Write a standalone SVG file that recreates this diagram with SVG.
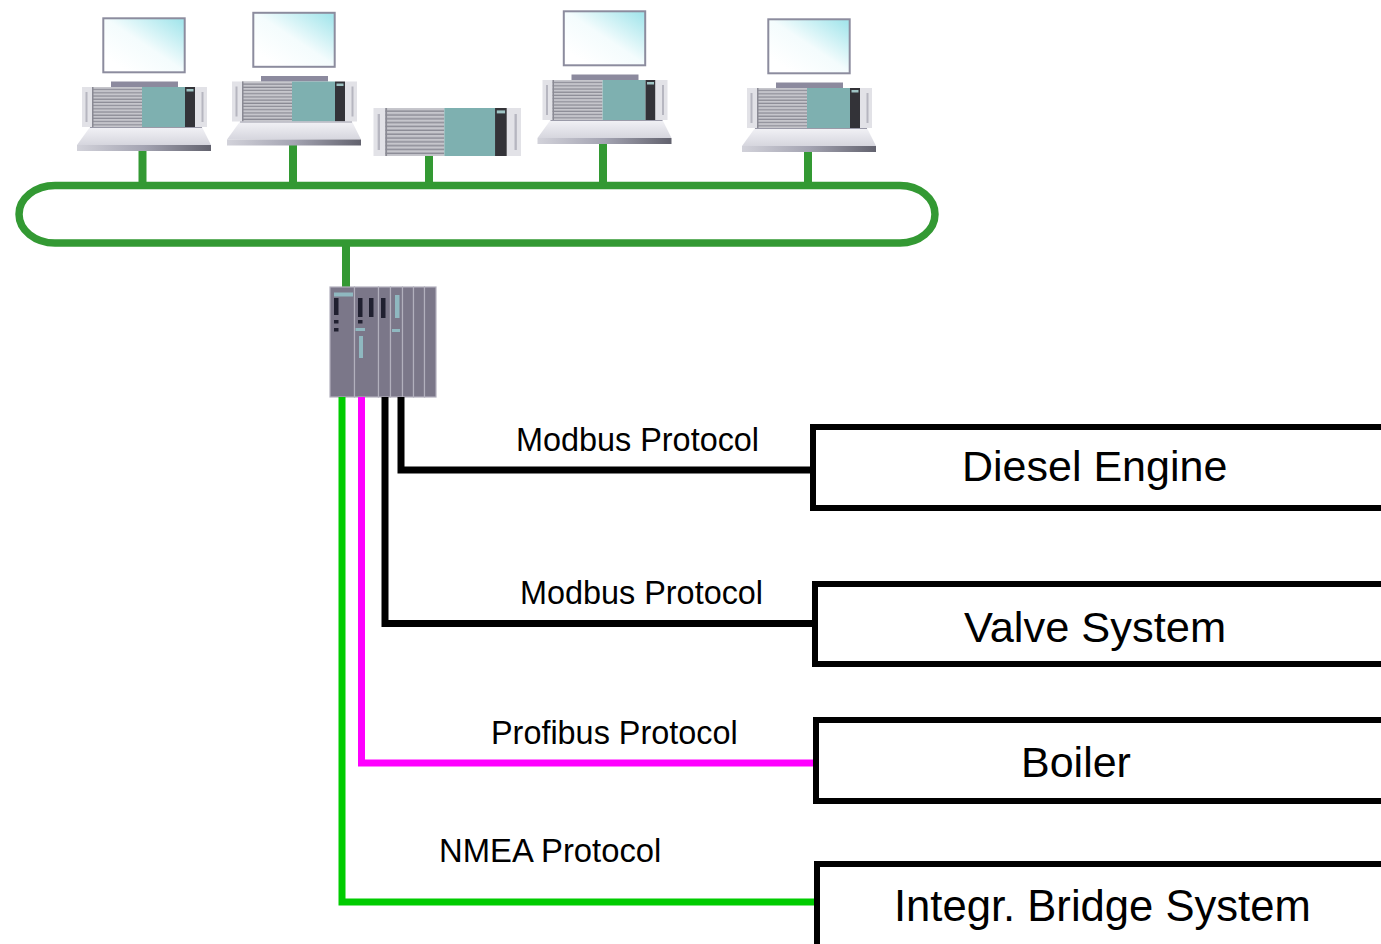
<svg xmlns="http://www.w3.org/2000/svg" xmlns:xlink="http://www.w3.org/1999/xlink" width="1381" height="944" viewBox="0 0 1381 944">
  <style>
    .bus { fill: none; stroke: #339933; stroke-width: 7.5; }
    .stub { stroke: #339933; stroke-width: 8; fill: none; }
    .link { fill: none; stroke-width: 7; stroke-linejoin: miter; }
    .box { fill: #ffffff; stroke: #000000; stroke-width: 6; }
    .proto { font-family: "Liberation Sans", Arial, sans-serif; font-size: 32.4px; fill: #000000; }
    .name { font-family: "Liberation Sans", Arial, sans-serif; font-size: 43px; fill: #000000; }
    .mod { fill: #7b7789; stroke: #b2b0bd; stroke-width: 1.2; }
  </style>
  <defs>
    <linearGradient id="screen" x1="0.2" y1="0.9" x2="1" y2="0.1">
      <stop offset="0" stop-color="#ffffff"/>
      <stop offset="0.45" stop-color="#f4fcfd"/>
      <stop offset="1" stop-color="#a6e6ec"/>
    </linearGradient>
    <linearGradient id="trayTop" x1="0" y1="0" x2="0" y2="1">
      <stop offset="0" stop-color="#f2f2f6"/>
      <stop offset="1" stop-color="#d6d6de"/>
    </linearGradient>
    <linearGradient id="trayEdge" x1="0" y1="0" x2="1" y2="0">
      <stop offset="0" stop-color="#d2d2da"/>
      <stop offset="0.5" stop-color="#a4a4b2"/>
      <stop offset="1" stop-color="#62626e"/>
    </linearGradient>
    <pattern id="grille" width="6" height="3.2" patternUnits="userSpaceOnUse">
      <rect width="6" height="3.2" fill="#c6c6cc"/>
      <rect y="2" width="6" height="1.2" fill="#8a8a94"/>
    </pattern>

    <!-- 19" industrial PC chassis, origin at top-left corner -->
    <g id="rack">
      <rect x="0" y="0" width="10" height="40" fill="#e2e2e7"/>
      <rect x="3.5" y="5" width="2" height="30" fill="#b6b6c0"/>
      <rect x="10" y="0" width="50" height="40" fill="url(#grille)"/>
      <rect x="10" y="0" width="1.5" height="40" fill="#8a8a94"/>
      <rect x="60" y="0" width="43" height="40" fill="#7eb0b0"/>
      <rect x="103" y="0" width="10" height="40" fill="#333338"/>
      <rect x="104.5" y="2" width="7" height="2.5" fill="#9fc4c4"/>
      <rect x="113" y="0" width="12" height="40" fill="#e2e2e7"/>
      <rect x="119.5" y="5" width="2" height="30" fill="#b6b6c0"/>
    </g>

    <!-- operator station: monitor, stand, chassis and keyboard tray -->
    <g id="station">
      <rect x="21.3" y="-68.7" width="81.4" height="54" fill="url(#screen)" stroke="#8c8c9e" stroke-width="2"/>
      <rect x="29" y="-5.5" width="67" height="5.5" fill="#8c8a9e"/>
      <use xlink:href="#rack"/>
      <polygon points="8,40 120,40 129,58 -5,58" fill="url(#trayTop)"/>
      <line x1="8" y1="40.5" x2="120" y2="40.5" stroke="#9a9aa8" stroke-width="1"/>
      <rect x="-5" y="58" width="134" height="6" fill="url(#trayEdge)"/>
    </g>
  </defs>

  <rect width="1381" height="944" fill="#ffffff"/>

  <!-- plant network ring and drops -->
  <g id="network">
    <path class="bus" d="M55,185.5 H900 A35,28.75 0 0 1 900,243 H55 A36,28.75 0 0 1 55,185.5 Z"/>
    <line class="stub" x1="142.5" y1="149" x2="142.5" y2="186"/>
    <line class="stub" x1="293" y1="144" x2="293" y2="186"/>
    <line class="stub" x1="429" y1="155" x2="429" y2="186"/>
    <line class="stub" x1="603" y1="143" x2="603" y2="186"/>
    <line class="stub" x1="808" y1="151" x2="808" y2="186"/>
    <line class="stub" x1="346" y1="243" x2="346" y2="287"/>
  </g>

  <g id="pc1"><use xlink:href="#station" transform="translate(82,87)"/></g>
  <g id="pc2"><use xlink:href="#station" transform="translate(232,81.5)"/></g>
  <g id="server"><use xlink:href="#rack" transform="translate(373.5,108) scale(1.18,1.2)"/></g>
  <g id="pc3"><use xlink:href="#station" transform="translate(542.5,80)"/></g>
  <g id="pc4"><use xlink:href="#station" transform="translate(747,88)"/></g>

  <!-- controller rack -->
  <g id="plc">
    <rect class="mod" x="330" y="287" width="24.5" height="110"/>
    <rect class="mod" x="354.5" y="287" width="24" height="110"/>
    <rect class="mod" x="378.5" y="287" width="12" height="110"/>
    <rect class="mod" x="390.5" y="287" width="12" height="110"/>
    <rect class="mod" x="402.5" y="287" width="11" height="110"/>
    <rect class="mod" x="413.5" y="287" width="11" height="110"/>
    <rect class="mod" x="424.5" y="287" width="11.5" height="110"/>
    <rect x="334" y="292.5" width="19" height="4" fill="#8fb8c0"/>
    <rect x="334" y="298" width="4.5" height="17" fill="#202030"/>
    <rect x="334" y="320" width="4.5" height="3.5" fill="#202030"/>
    <rect x="334" y="328" width="4.5" height="3.5" fill="#202030"/>
    <rect x="358" y="298" width="4.5" height="19" fill="#202030"/>
    <rect x="369" y="298" width="4.5" height="19" fill="#202030"/>
    <rect x="358" y="320" width="4.5" height="3.5" fill="#202030"/>
    <rect x="355.5" y="328" width="9.5" height="3" fill="#8fb8c0"/>
    <rect x="359" y="336" width="4" height="22" fill="#8fb8c0"/>
    <rect x="381" y="298" width="4.5" height="20" fill="#202030"/>
    <rect x="395" y="295" width="4.5" height="23" fill="#8fb8c0"/>
    <rect x="392" y="329" width="8" height="3" fill="#8fb8c0"/>
  </g>

  <!-- field bus links -->
  <g id="connectors">
    <path class="link" stroke="#00cc00" d="M342,397 V902 H816"/>
    <path class="link" stroke="#ff00ff" d="M361.5,397 V763 H816"/>
    <path class="link" stroke="#000000" d="M385,397 V623.5 H815"/>
    <path class="link" stroke="#000000" d="M401,397 V470 H813"/>
    <text class="proto" x="516" y="451">Modbus Protocol</text>
    <text class="proto" x="520" y="604">Modbus Protocol</text>
    <text class="proto" x="491" y="744">Profibus Protocol</text>
    <text class="proto" x="439" y="862" style="font-size:32.8px">NMEA Protocol</text>
  </g>

  <g id="diesel-engine">
    <rect class="box" x="813" y="427" width="600" height="81"/>
    <text class="name" x="962" y="481">Diesel Engine</text>
  </g>
  <g id="valve-system">
    <rect class="box" x="815" y="584" width="600" height="80"/>
    <text class="name" x="964" y="642" style="font-size:43.4px">Valve System</text>
  </g>
  <g id="boiler">
    <rect class="box" x="816" y="720" width="600" height="81"/>
    <text class="name" x="1021" y="777">Boiler</text>
  </g>
  <g id="bridge-system">
    <rect class="box" x="817" y="864" width="600" height="120"/>
    <text class="name" x="894" y="921" style="font-size:43.6px">Integr. Bridge System</text>
  </g>
</svg>
